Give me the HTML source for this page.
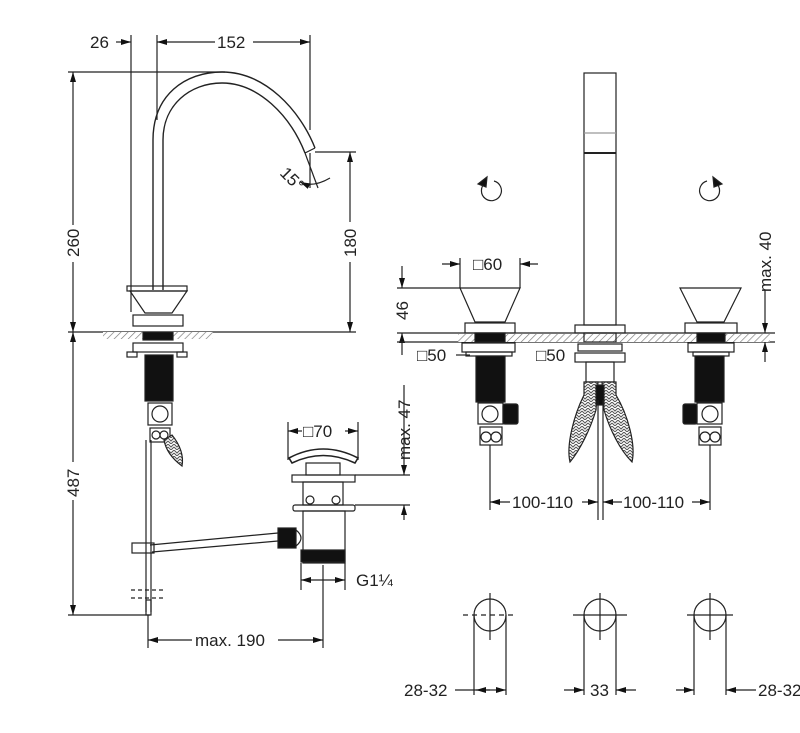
<!DOCTYPE html>
<html><head><meta charset="utf-8"><style>
html,body{margin:0;padding:0;background:#fff;}
svg{display:block;}
text{font-family:"Liberation Sans",Arial,sans-serif;font-size:17px;fill:#222;}
</style></head><body>
<svg width="800" height="733" viewBox="0 0 800 733" xmlns="http://www.w3.org/2000/svg">
<defs>
<marker id="a" viewBox="0 0 10 6" refX="10" refY="3" markerWidth="10" markerHeight="6" orient="auto-start-reverse" markerUnits="userSpaceOnUse"><path d="M0,0L10,3L0,6z" fill="#111"/></marker>
<pattern id="h" width="5" height="5" patternUnits="userSpaceOnUse" patternTransform="rotate(45)"><rect width="5" height="5" fill="#fff"/><line x1="0" y1="0" x2="0" y2="5" stroke="#777" stroke-width="1.3"/></pattern>
<pattern id="br" width="6" height="6" patternUnits="userSpaceOnUse"><rect width="6" height="6" fill="#fff"/><path d="M0,0L3,3L6,0M0,3L3,6L6,3" stroke="#555" fill="none" stroke-width="1"/></pattern>
</defs>
<g stroke="#222" stroke-width="1.2" fill="none">
<line x1="116" y1="42" x2="131" y2="42" marker-end="url(#a)"/>
<line x1="131" y1="35" x2="131" y2="312"/>
<line x1="157" y1="35" x2="157" y2="120"/>
<line x1="157" y1="42" x2="215" y2="42" marker-start="url(#a)"/>
<line x1="253" y1="42" x2="310" y2="42" marker-end="url(#a)"/>
<line x1="310" y1="35" x2="310" y2="130"/>
<line x1="68" y1="72" x2="225" y2="72"/>
<line x1="73" y1="72" x2="73" y2="225" marker-start="url(#a)"/>
<line x1="73" y1="262" x2="73" y2="332" marker-end="url(#a)"/>
<line x1="315" y1="152" x2="356" y2="152"/>
<line x1="350" y1="152" x2="350" y2="222" marker-start="url(#a)"/>
<line x1="350" y1="262" x2="350" y2="332" marker-end="url(#a)"/>
<line x1="68" y1="332" x2="356" y2="332"/>
<line x1="73" y1="332" x2="73" y2="462" marker-start="url(#a)"/>
<line x1="73" y1="500" x2="73" y2="615" marker-end="url(#a)"/>
<line x1="68" y1="615" x2="150" y2="615"/>
<path d="M153,290 L153,140 C153,95 185,72 222,72 C265,72 300,110 315,148" stroke-width="1.4"/>
<path d="M163,290 L163,140 C163,105 190,83 222,83 C258,83 290,115 305,153" stroke-width="1.4"/>
<line x1="305" y1="153" x2="315" y2="148"/>
<line x1="310" y1="153" x2="310" y2="188"/>
<line x1="305" y1="153" x2="318" y2="188"/>
<path d="M300,182 Q313,188 330,178" marker-start="url(#a)"/>
<rect x="127" y="286" width="60" height="5"/>
<path d="M130,291 L187,291 L172,313 L145,313 Z"/>
<rect x="133" y="315" width="50" height="11"/>
<rect x="103" y="332" width="110" height="7" fill="url(#h)" stroke="none"/>
<rect x="143" y="332" width="30" height="8" fill="#111"/>
<rect x="133" y="343" width="50" height="9"/>
<rect x="127" y="352" width="10" height="5"/>
<rect x="177" y="352" width="10" height="5"/>
<rect x="145" y="355" width="28" height="46" fill="#111"/>
<rect x="148" y="403" width="24" height="22"/>
<circle cx="160" cy="414" r="8"/>
<rect x="150" y="428" width="20" height="14"/>
<circle cx="156" cy="435" r="4"/><circle cx="164" cy="435" r="4"/>
<path d="M164,440 L172,435 C180,445 184,455 182,466 C174,460 166,452 164,440Z" fill="url(#br)"/>
<line x1="146" y1="440" x2="146" y2="612"/>
<line x1="151" y1="440" x2="151" y2="612"/>
<rect x="146" y="600" width="5" height="15"/>
<line x1="131" y1="590" x2="165" y2="590" stroke-dasharray="4,3"/>
<line x1="131" y1="598" x2="165" y2="598" stroke-dasharray="4,3"/>
<path d="M150,545 L278,533 M152,552 L278,541"/>
<rect x="132" y="543" width="22" height="10"/>
<rect x="278" y="528" width="18" height="20" fill="#111"/>
<path d="M296,530 Q306,538 296,546"/>
<line x1="288" y1="422" x2="288" y2="460"/>
<line x1="358" y1="422" x2="358" y2="460"/>
<line x1="288" y1="431" x2="302" y2="431" marker-start="url(#a)"/>
<line x1="345" y1="431" x2="358" y2="431" marker-end="url(#a)"/>
<path d="M289,458 Q323,440 358,458 L355,463 Q323,448 292,463 Z" stroke-width="1.6"/>
<rect x="306" y="463" width="34" height="12"/>
<rect x="292" y="475" width="63" height="7"/>
<rect x="303" y="482" width="40" height="23"/>
<circle cx="310" cy="500" r="4"/><circle cx="336" cy="500" r="4"/>
<rect x="293" y="505" width="62" height="6" rx="2"/>
<rect x="303" y="511" width="42" height="52"/>
<rect x="301" y="550" width="44" height="12" fill="#111"/>
<line x1="355" y1="475" x2="410" y2="475"/>
<line x1="355" y1="505" x2="410" y2="505"/>
<line x1="404" y1="385" x2="404" y2="475" marker-end="url(#a)"/>
<line x1="404" y1="520" x2="404" y2="505" marker-end="url(#a)"/>
<line x1="301" y1="563" x2="301" y2="590"/>
<line x1="345" y1="563" x2="345" y2="590"/>
<line x1="301" y1="580" x2="345" y2="580" marker-start="url(#a)" marker-end="url(#a)"/>
<line x1="323" y1="565" x2="323" y2="648"/>
<line x1="148" y1="615" x2="148" y2="648"/>
<line x1="148" y1="640" x2="192" y2="640" marker-start="url(#a)"/>
<line x1="278" y1="640" x2="323" y2="640" marker-end="url(#a)"/>

<rect x="584" y="73" width="32" height="252"/>
<line x1="584" y1="133" x2="616" y2="133" stroke="#999"/>
<line x1="584" y1="153" x2="616" y2="153" stroke-width="2"/>
<path d="M485,183 A10,10 0 1 0 494,181" />
<path d="M478,184 L487,177 L486,187 Z" fill="#111"/>
<path d="M716,183 A10,10 0 1 1 707,181"/>
<path d="M722,184 L713,177 L714,187 Z" fill="#111"/>
<line x1="460" y1="258" x2="460" y2="288"/>
<line x1="520" y1="258" x2="520" y2="288"/>
<line x1="442" y1="264" x2="460" y2="264" marker-end="url(#a)"/>
<line x1="538" y1="264" x2="520" y2="264" marker-end="url(#a)"/>
<line x1="397" y1="288" x2="460" y2="288"/>
<line x1="402" y1="266" x2="402" y2="288" marker-end="url(#a)"/>
<line x1="402" y1="355" x2="402" y2="333" marker-end="url(#a)"/>
<line x1="397" y1="333" x2="775" y2="333"/>
<line x1="397" y1="342" x2="775" y2="342"/>
<rect x="458" y="334" width="312" height="8" fill="url(#h)" stroke="none"/>
<line x1="765" y1="290" x2="765" y2="333" marker-end="url(#a)"/>
<line x1="765" y1="362" x2="765" y2="342" marker-end="url(#a)"/>
<path d="M460,288 L520,288 L505,322 L475,322 Z"/>
<rect x="465" y="323" width="50" height="10"/>
<rect x="475" y="333" width="30" height="9" fill="#111"/>
<rect x="462" y="343" width="53" height="9"/>
<rect x="466" y="352" width="46" height="4"/>
<line x1="456" y1="355" x2="470" y2="355"/>
<rect x="476" y="356" width="29" height="46" fill="#111"/>
<rect x="478" y="403" width="25" height="21"/>
<circle cx="490" cy="414" r="8"/>
<rect x="503" y="404" width="15" height="20" rx="2" fill="#111"/>
<rect x="480" y="427" width="22" height="18"/>
<circle cx="486" cy="437" r="5"/><circle cx="496" cy="437" r="5"/>
<line x1="490" y1="445" x2="490" y2="510"/>
<path d="M680,288 L741,288 L724,322 L697,322 Z"/>
<rect x="685" y="323" width="52" height="10"/>
<rect x="697" y="333" width="28" height="9" fill="#111"/>
<rect x="688" y="343" width="46" height="9"/>
<rect x="693" y="352" width="36" height="4"/>
<rect x="695" y="356" width="29" height="46" fill="#111"/>
<rect x="697" y="403" width="25" height="21"/>
<circle cx="710" cy="414" r="8"/>
<rect x="683" y="404" width="14" height="20" rx="2" fill="#111"/>
<rect x="699" y="427" width="22" height="18"/>
<circle cx="705" cy="437" r="5"/><circle cx="715" cy="437" r="5"/>
<line x1="710" y1="445" x2="710" y2="510"/>
<rect x="575" y="325" width="50" height="8"/>
<rect x="584" y="333" width="32" height="9"/>
<rect x="578" y="344" width="44" height="7"/>
<rect x="575" y="353" width="50" height="9"/>
<rect x="586" y="362" width="28" height="20"/>
<path d="M584,382 L598,382 L596,410 C590,430 580,450 570,462 C566,445 574,415 584,395 Z" fill="url(#br)"/>
<path d="M616,382 L602,382 L604,410 C610,430 620,450 632,462 C636,445 628,415 616,395 Z" fill="url(#br)"/>
<rect x="596" y="385" width="8" height="20" fill="#111"/>
<line x1="598" y1="400" x2="598" y2="520"/>
<line x1="603" y1="400" x2="603" y2="520"/>
<line x1="490" y1="502" x2="510" y2="502" marker-start="url(#a)"/>
<line x1="582" y1="502" x2="598" y2="502" marker-end="url(#a)"/>
<line x1="622" y1="502" x2="603" y2="502" marker-end="url(#a)"/>
<line x1="692" y1="502" x2="710" y2="502" marker-end="url(#a)"/>
<circle cx="490" cy="615" r="16"/>
<line x1="490" y1="593" x2="490" y2="640"/><line x1="463" y1="615" x2="515" y2="615" stroke-dasharray="5,4"/>
<line x1="474" y1="615" x2="474" y2="695"/><line x1="506" y1="615" x2="506" y2="695"/>
<line x1="455" y1="690" x2="490" y2="690"/>
<line x1="476" y1="690" x2="490" y2="690" marker-start="url(#a)"/>
<line x1="490" y1="690" x2="506" y2="690" marker-end="url(#a)"/>
<circle cx="600" cy="615" r="16"/>
<line x1="600" y1="593" x2="600" y2="640"/><line x1="573" y1="615" x2="627" y2="615"/>
<line x1="584" y1="615" x2="584" y2="695"/><line x1="616" y1="615" x2="616" y2="695"/>
<line x1="564" y1="690" x2="584" y2="690" marker-end="url(#a)"/>
<line x1="636" y1="690" x2="616" y2="690" marker-end="url(#a)"/>
<circle cx="710" cy="615" r="16"/>
<line x1="710" y1="593" x2="710" y2="640"/><line x1="687" y1="615" x2="733" y2="615"/>
<line x1="694" y1="615" x2="694" y2="695"/><line x1="726" y1="615" x2="726" y2="695"/>
<line x1="676" y1="690" x2="694" y2="690" marker-end="url(#a)"/>
<line x1="756" y1="690" x2="726" y2="690" marker-end="url(#a)"/>
</g>
<text x="90" y="48">26</text>
<text x="217" y="48">152</text>
<text x="0" y="0" transform="translate(279,174) rotate(45)" font-size="15">15°</text>
<text transform="translate(79,257) rotate(-90)">260</text>
<text transform="translate(356,257) rotate(-90)">180</text>
<text transform="translate(79,497) rotate(-90)">487</text>
<text x="303" y="437">□70</text>
<text transform="translate(410,460) rotate(-90)">max. 47</text>
<text x="356" y="586">G1¼</text>
<text x="195" y="646">max. 190</text>
<text x="473" y="270">□60</text>
<text transform="translate(408,320) rotate(-90)">46</text>
<text transform="translate(771,292) rotate(-90)">max. 40</text>
<text x="417" y="361">□50</text>
<text x="536" y="361">□50</text>
<text x="512" y="508">100-110</text>
<text x="623" y="508">100-110</text>
<text x="404" y="696">28-32</text>
<text x="590" y="696">33</text>
<text x="758" y="696">28-32</text>
</svg>
</body></html>
